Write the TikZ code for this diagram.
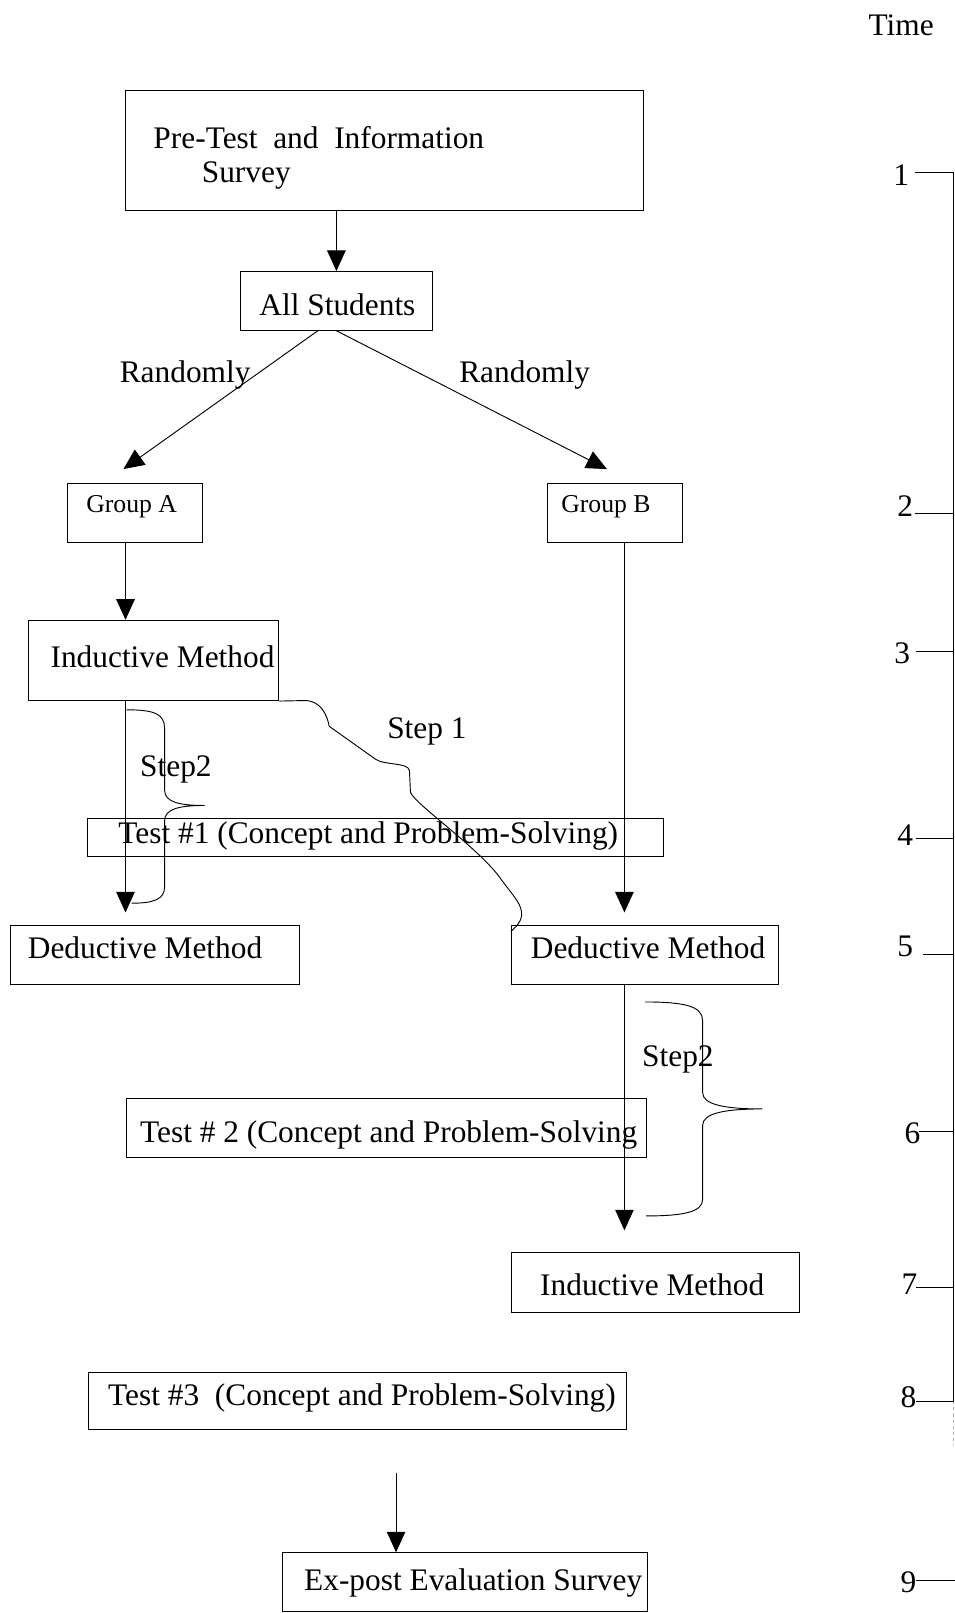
\documentclass[tikz,border=0pt]{standalone}
\usepackage{fontspec}
\setmainfont{Liberation Serif}
\usetikzlibrary{arrows.meta,calc}
\newcommand{\mfs}{\fontsize{30.5}{36}\selectfont}
\newcommand{\sfs}{\fontsize{25}{30}\selectfont}
\begin{document}
\begin{tikzpicture}[x=1pt,y=-1pt,
  bx/.style={draw, line width=1pt, inner sep=0pt},
  tx/.style={inner sep=0pt, font=\mfs},
  sx/.style={inner sep=0pt, font=\sfs},
  arr/.style={line width=0.9pt, -{Triangle[width=18pt,length=20pt]}},
  ln/.style={line width=0.9pt}]
\fill[white] (0,0) rectangle (928,1568);
\useasboundingbox (0,0) rectangle (928,1568);

% boxes and texts
\node[bx, minimum width=504pt, minimum height=117pt] (pre) at (374,146.5) {};
\node[tx, anchor=west] (pre1) at (149,134) {Pre-Test\ \ and\ \ Information};
\node[tx, anchor=west] (pre2) at (196,171) {Survey};
\node[bx, minimum width=186pt, minimum height=57pt] (all) at (327,292.5) {};
\node[tx] (allt) at (328,296) {All Students};
\node[bx, minimum width=131pt, minimum height=57pt] (ga) at (131.5,498.5) {};
\node[sx] (gat) at (128,493) {Group A};
\node[bx, minimum width=131pt, minimum height=57pt] (gb) at (597.5,498.5) {};
\node[sx] (gbt) at (589,493) {Group B};
\node[bx, minimum width=243pt, minimum height=78pt] (inda) at (149.5,642) {};
\node[tx] (indat) at (158,638) {Inductive Method};
\node[bx, minimum width=560pt, minimum height=37pt] (t1) at (365,814.5) {};
\node[tx] (t1t) at (358,813) {Test \#1 (Concept and Problem-Solving)};
\node[bx, minimum width=281pt, minimum height=57pt] (deda) at (150.5,928.5) {};
\node[tx] (dedat) at (141,921) {Deductive Method};
\node[bx, minimum width=260pt, minimum height=57pt] (dedb) at (627,928.5) {};
\node[tx] (dedbt) at (630,921) {Deductive Method};
\node[bx, minimum width=505pt, minimum height=57pt] (t2) at (375.5,1096.5) {};
\node[tx, anchor=west] (t2t) at (136,1103) {Test \# 2 (Concept and Problem-Solving};
\node[bx, minimum width=280pt, minimum height=58pt] (indb) at (637,1247) {};
\node[tx] (indbt) at (634,1249) {Inductive Method};
\node[bx, minimum width=523pt, minimum height=56pt] (t3) at (347.5,1362) {};
\node[tx, anchor=west] (t3t) at (105,1359) {Test \#3\ \ (Concept and Problem-Solving)};
\node[bx, minimum width=354pt, minimum height=57pt] (ex) at (452,1538) {};
\node[tx] (ext) at (460,1539) {Ex-post Evaluation Survey};

% labels
\node[tx] (r1) at (180,365) {Randomly};
\node[tx] (r2) at (510,365) {Randomly};
\node[tx] (s1) at (415,711) {Step 1};
\node[tx] (s2a) at (171,748) {Step2};
\node[tx] (s2b) at (659,1030) {Step2};

% arrows
\coordinate (xa) at (122,0);
\coordinate (xb) at (607,0);
\coordinate (xe) at (385,0);
\coordinate (tipga) at (120,456);
\coordinate (tipgb) at (590,456);
\coordinate (tipda) at (122,887);
\coordinate (tipdb) at (607,887);
\coordinate (tipib) at (607,1196);
\coordinate (exs) at (385,1432);
\draw[arr] (pre.south -| all) -- (all.north);
\draw[arr] ($(all.south)+(-18,0)$) -- (tipga);
\draw[arr] (all.south) -- (tipgb);
\draw[arr] (ga.south -| xa) -- (inda.north -| xa);
\draw[arr] (inda.south -| xa) -- (tipda);
\draw[arr] (gb.south -| xb) -- (tipdb);
\draw[arr] (dedb.south -| xb) -- (tipib);
\draw[arr] (exs) -- (ex.north -| xe);

% Step 1 curve
\draw[ln] (inda.south east) -- (296,681) .. controls (312,681) and (318,695) .. (320,706)
  -- (365,738) .. controls (373,744) and (397,741) .. (398,749) -- (399,770)
  .. controls (401,780) and (468,826) .. (488,856)
  .. controls (500,872) and (508,880) .. (507,890)
  .. controls (506,898) and (500,902) .. ($(dedb.north west)+(0,6)$);

% braces
\draw[ln] (123,690) .. controls (150,690) and (160,694) .. (160,708) -- (160,768)
  .. controls (160,780) and (175,783) .. (199,783)
  .. controls (175,783) and (160,786) .. (160,798) -- (160,862)
  .. controls (160,874) and (150,878) .. (128,878);
\draw[ln] (627,974) .. controls (665,974) and (683,978) .. (683,992) -- (683,1062)
  .. controls (683,1074) and (705,1078) .. (741,1078)
  .. controls (705,1078) and (683,1082) .. (683,1094) -- (683,1166)
  .. controls (683,1178) and (665,1182) .. (628,1182);

% time axis
\node[tx] (time) at (876,25) {Time};
\node[tx] (n1) at (876,170) {1};
\node[tx] (n2) at (880,492) {2};
\node[tx] (n3) at (877,635) {3};
\node[tx] (n4) at (880,812) {4};
\node[tx] (n5) at (880,920) {5};
\node[tx] (n6) at (887,1102) {6};
\node[tx] (n7) at (884,1248) {7};
\node[tx] (n8) at (883,1358) {8};
\node[tx] (n9) at (883,1538) {9};
\draw[ln] (889,168) -- (927,168) -- (927,1362);
\draw[gray!60, line width=0.8pt, dash pattern=on 3pt off 3pt] (927,1362) -- (927,1405);
\draw[ln] (889,499) -- (927,499);
\draw[ln] (890,633) -- (927,633);
\draw[ln] (890,815) -- (927,815);
\draw[ln] (897,928) -- (927,928);
\draw[ln] (893,1100) -- (927,1100);
\draw[ln] (890,1252) -- (927,1252);
\draw[ln] (890,1362) -- (927,1362);
\draw[ln] (890,1536) -- (928,1536);
\end{tikzpicture}
\end{document}
